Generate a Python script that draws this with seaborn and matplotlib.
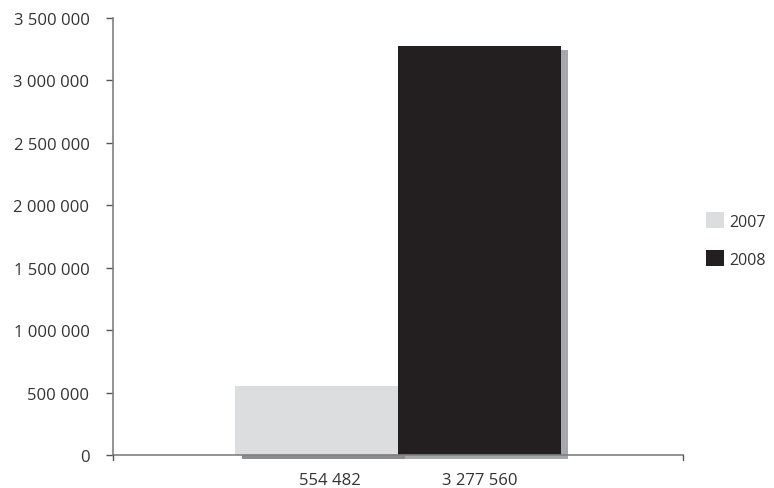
import pandas as pd
import matplotlib.pyplot as plt
import matplotlib.transforms as mtransforms
import seaborn as sns

# データ
years = ['2007', '2008']
values = [554482, 3277560]
tick_labels = ['554 482', '3 277 560']
colors = ['#dcdddf', '#231f20']
shadow_colors = ['#8c8c8e', '#a7a8ab']

df = pd.DataFrame({'cat': [''] * len(years), 'year': years, 'value': values})

sns.set_style('white')
plt.rcParams['font.family'] = ['Open Sans', 'DejaVu Sans']

fig = plt.figure(figsize=(7.74, 4.89), dpi=100)
ax = fig.add_axes([0.146, 0.0675, 0.736, 0.8935])

# 影（少しずらして描画）
sns.barplot(data=df, x='cat', y='value', hue='year', palette=shadow_colors,
            width=0.572, saturation=1, legend=False, linewidth=0, ax=ax)
shadow_tr = mtransforms.offset_copy(ax.transData, fig=fig, x=7, y=-4, units='dots')
for p in list(ax.patches):
    p.set_transform(shadow_tr)
    p.set_zorder(1)
    p.set_clip_on(False)
n_shadow = len(ax.patches)

# 本体の棒
sns.barplot(data=df, x='cat', y='value', hue='year', palette=colors,
            width=0.572, saturation=1, linewidth=0, ax=ax)
for p in ax.patches[n_shadow:]:
    p.set_zorder(2)

ax.set_xlim(-0.5, 0.5)
ax.set_ylim(0, 3500000)
ax.set_yticks(range(0, 3500001, 500000))
ax.set_yticklabels([f'{v:,}'.replace(',', ' ') for v in range(0, 3500001, 500000)])

# x軸のラベル（棒の下）
ax.set_xticks([-0.12, 0.144])
ax.set_xticklabels(tick_labels)
ax.tick_params(axis='x', length=0, pad=12, labelsize=12, labelcolor='#333333')
ax.tick_params(axis='y', length=5, width=1, color='#555555', pad=12,
               labelsize=12, labelcolor='#333333', left=True)
# x軸の両端の目盛り
for xpos in [-0.5, 0.5]:
    ax.plot([xpos, xpos], [0, -0.012], transform=ax.get_xaxis_transform(),
            color='#555555', lw=1, clip_on=False, zorder=5)

ax.set_xlabel('')
ax.set_ylabel('')
for s in ['top', 'right']:
    ax.spines[s].set_visible(False)
for s in ['left', 'bottom']:
    ax.spines[s].set_color('#808080')
    ax.spines[s].set_linewidth(1.2)
    ax.spines[s].set_zorder(4)

leg = ax.legend(loc='center left', bbox_to_anchor=(0.894, 0.507),
                bbox_transform=fig.transFigure, frameon=False, fontsize=11.5,
                handlelength=1.13, handleheight=1.13, handletextpad=0.3,
                labelspacing=1.3)
for t in leg.get_texts():
    t.set_color('#333333')

fig.savefig('out.png', dpi=100)
